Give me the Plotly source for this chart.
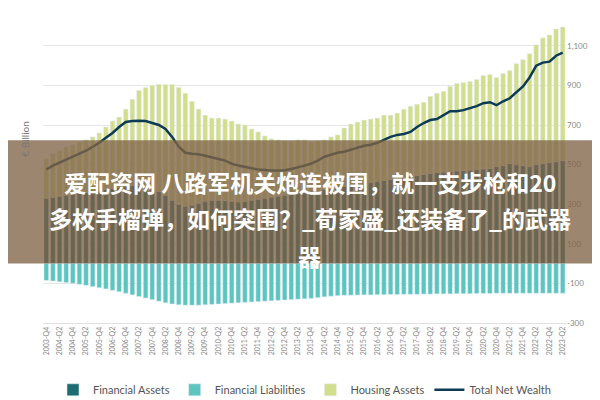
import plotly.graph_objects as go

quarters = []
for yr in range(2003, 2024):
    for q in range(1, 5):
        if (yr == 2003 and q < 4) or (yr == 2023 and q > 2):
            continue
        quarters.append(f"{yr}-Q{q}")

total_assets = [530, 555, 570, 590, 600, 615, 625, 640, 660, 690, 720, 740, 780, 830, 875, 890,
                900, 905, 905, 905, 890, 860, 820, 780, 750, 735, 735, 730, 720, 705, 700, 680,
                665, 645, 630, 625, 620, 620, 625, 625, 615, 620, 625, 640, 650, 685, 705, 715,
                725, 730, 735, 750, 750, 760, 780, 795, 805, 815, 845, 860, 870, 895, 910, 915,
                920, 930, 950, 955, 940, 960, 975, 1010, 1030, 1060, 1105, 1140, 1155, 1185, 1195,
                1195]
total_assets = total_assets[:len(quarters)]
financial_assets = [330, 335, 340, 345, 350, 355, 360, 365, 370, 375, 380, 385, 390, 395, 395, 390,
                    380, 365, 345, 320, 300, 290, 295, 305, 315, 320, 320, 318, 315, 312, 315, 320,
                    325, 330, 335, 340, 345, 350, 355, 360, 365, 370, 375, 380, 385, 390, 395, 400,
                    405, 410, 415, 420, 425, 430, 435, 440, 445, 450, 455, 460, 462, 465, 468, 470,
                    472, 475, 478, 480, 490, 495, 505, 500, 495, 490, 500, 505, 510, 515, 520]
housing_assets = [t - f for t, f in zip(total_assets, financial_assets)]
financial_liabilities = [-85, -88, -92, -96, -100, -105, -110, -116, -122, -128, -135, -142, -150,
                         -158, -166, -174, -182, -190, -198, -204, -208, -210, -210, -210, -208,
                         -206, -204, -202, -200, -198, -196, -194, -192, -190, -188, -186, -184,
                         -182, -180, -178, -176, -172, -168, -165, -162, -160, -160, -159, -158,
                         -158, -157, -157, -156, -156, -155, -155, -155, -154, -154, -153, -153,
                         -153, -152, -152, -152, -151, -151, -151, -150, -150, -150, -150, -150,
                         -150, -150, -150, -150, -150, -150]
net_wealth = [475, 495, 510, 525, 540, 555, 570, 590, 610, 635, 660, 690, 715, 720, 722, 720,
              710, 700, 680, 640, 590, 560, 555, 552, 545, 535, 528, 520, 505, 495, 490, 482,
              475, 472, 470, 470, 472, 478, 485, 495, 505, 520, 540, 550, 560, 565, 575, 585,
              595, 600, 610, 625, 640, 650, 655, 665, 690, 710, 725, 730, 750, 770, 770, 775,
              785, 795, 810, 815, 800, 820, 835, 865, 895, 940, 1000, 1015, 1020, 1050, 1065, 1070]
net_wealth = net_wealth[:len(quarters)]
title_lines = ["爱配资网 八路军机关炮连被围，就一支步枪和20",
               "多枚手榴弹，如何突围？_荀家盛_还装备了_的武器",
               "器"]

fig = go.Figure()
fig.add_trace(go.Bar(x=quarters, y=financial_assets, name="Financial Assets", marker_color="#1d6b73"))
fig.add_trace(go.Bar(x=quarters, y=financial_liabilities, name="Financial Liabilities", marker_color="#5cc5c0"))
fig.add_trace(go.Bar(x=quarters, y=housing_assets, name="Housing Assets", marker_color="#d2de8c"))
fig.add_trace(go.Scatter(x=quarters, y=net_wealth, name="Total Net Wealth", mode="lines",
                         line=dict(color="#0d3b55", width=2.5)))

fig.update_layout(
    width=600, height=400, barmode="relative", bargap=0.3,
    margin=dict(l=35, r=42, t=18, b=85, autoexpand=False),
    plot_bgcolor="white", paper_bgcolor="white",
    font=dict(family="Lato", color="#666"),
    showlegend=True,
    legend=dict(orientation="h", x=0.5, xanchor="center", y=-0.225, yanchor="middle",
                font=dict(size=11, color="#555"), traceorder="normal", itemwidth=30),
    xaxis=dict(tickangle=-90, tickfont=dict(size=7, color="#888"), dtick=2, tick0=0,
               showgrid=False, showline=True, linecolor="#e0e0e0", ticks="", automargin=False),
    yaxis=dict(side="right", range=[-300, 1200], tickvals=[-300, -100, 100, 300, 500, 700, 900, 1100],
               ticktext=["-300", "-100", "100", "300", "500", "700", "900", "1,100"],
               tickfont=dict(size=8, color="#888"), gridcolor="#e6e6e6", zeroline=False, automargin=False),
)
fig.add_annotation(text="€ Billion", xref="paper", yref="paper", x=-0.05, y=0.62, textangle=-90,
                   showarrow=False, font=dict(size=10, color="#777"))
fig.add_shape(type="rect", xref="paper", yref="paper", x0=-0.1, x1=1.1, y0=0.20, y1=0.615,
              fillcolor="rgba(128,100,70,0.78)", line_width=0, layer="above")
for line, ypos in zip(title_lines, [0.474, 0.352, 0.226]):
    fig.add_annotation(text="<b>" + line + "</b>", xref="paper", yref="paper", x=0.51, y=ypos,
                       yanchor="middle", showarrow=False,
                       font=dict(size=23, color="white", family="Noto Sans CJK SC"))
fig.write_html("out.html")
